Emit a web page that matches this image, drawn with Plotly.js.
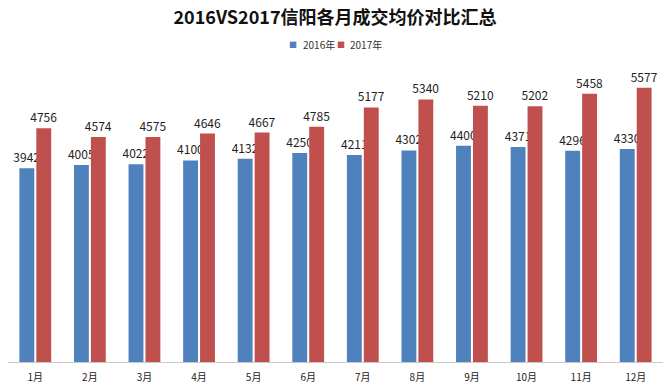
<!DOCTYPE html>
<html><head><meta charset="utf-8">
<script src="https://cdn.plot.ly/plotly-3.0.1.min.js"></script>
<style>body{margin:0;background:#fff}#c{width:670px;height:386px}</style>
</head><body><div id="c"></div>
<script>
const months = ['1月','2月','3月','4月','5月','6月','7月','8月','9月','10月','11月','12月'];
const values2016 = [3942,4005,4022,4100,4132,4250,4211,4302,4400,4371,4296,4330];
const values2017 = [4756,4574,4575,4646,4667,4785,5177,5340,5210,5202,5458,5577];
const seriesNames = ['2016年','2017年'];
const seriesColors = ['#4F81BD','#C0504D'];

const font = '"Noto Sans CJK SC", "Noto Sans", sans-serif';
const traces = [values2016, values2017].map((v,i)=>({
  type:'bar', name:seriesNames[i], x:months, y:v, marker:{color:seriesColors[i]},
  text:v.map(String), textposition:'outside', cliponaxis:false, constraintext:'none',
  textfont:{size:12, color:'#222', family:font}
}));
const legendAnn = [];
seriesNames.forEach((n,i)=>{
  const x0 = 0.445 + i*0.072;
  legendAnn.push({xref:'paper', yref:'paper', x:x0, y:1.075, xanchor:'right', yanchor:'middle',
    text:'■', showarrow:false, font:{size:8, color:seriesColors[i], family:font}});
  legendAnn.push({xref:'paper', yref:'paper', x:x0+0.002, y:1.075, xanchor:'left', yanchor:'middle',
    text:n, showarrow:false, font:{size:10, color:'#333', family:font}});
});
const layout = {
  width:670, height:386,
  margin:{l:8, r:7, t:67, b:24},
  paper_bgcolor:'#fff', plot_bgcolor:'#fff',
  title:{text:'<b>2016VS2017信阳各月成交均价对比汇总</b>', x:0.5, xanchor:'center', y:0.955, yanchor:'middle',
         font:{size:18, color:'#111', family:font}},
  showlegend:false,
  annotations:legendAnn,
  barmode:'group', bargap:0.38, bargroupgap:0.12,
  xaxis:{showline:true, linecolor:'#c8c8c8', linewidth:1, ticks:'', showgrid:false, ticklabelstandoff:6,
         tickfont:{size:10, color:'#222', family:font}},
  yaxis:{range:[0,6000], visible:false, showgrid:false, zeroline:false}
};
Plotly.newPlot('c', traces, layout, {displayModeBar:false, staticPlot:true});
</script></body></html>
